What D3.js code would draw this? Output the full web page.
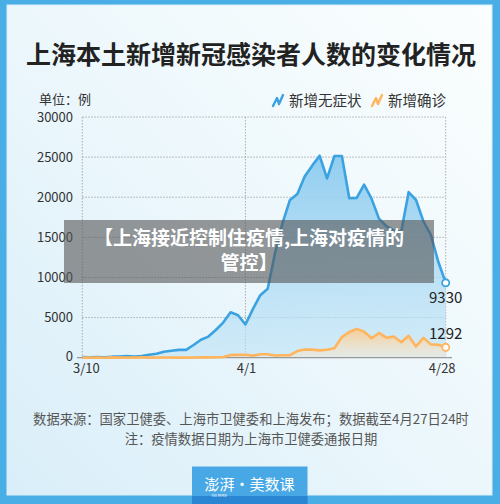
<!DOCTYPE html>
<html><head><meta charset="utf-8">
<script src="https://cdn.jsdelivr.net/npm/d3@7"></script>
<style>html,body{margin:0;padding:0;background:#4aaee6;}svg{display:block;}</style>
</head><body>
<script>
const dates = ["3/10","3/11","3/12","3/13","3/14","3/15","3/16","3/17","3/18","3/19","3/20","3/21","3/22","3/23","3/24","3/25","3/26","3/27","3/28","3/29","3/30","3/31","4/1","4/2","4/3","4/4","4/5","4/6","4/7","4/8","4/9","4/10","4/11","4/12","4/13","4/14","4/15","4/16","4/17","4/18","4/19","4/20","4/21","4/22","4/23","4/24","4/25","4/26","4/27","4/28"];
const asymptomatic = [76,64,78,64,128,130,197,150,203,366,492,734,865,977,979,1580,2231,2631,3450,4381,5656,5298,4144,6051,7788,8581,13086,16766,19660,20398,22609,23937,25173,22348,25141,25146,19872,19923,21582,19831,17332,16407,15861,15698,20634,19657,16983,15319,11956,9330];
const confirmed = [4,11,5,1,41,9,5,8,57,8,17,24,31,4,4,29,38,45,50,96,326,355,358,260,438,425,268,311,322,824,1015,1006,914,994,1189,2573,3200,3590,3238,2417,3084,2494,2634,1931,2736,1401,2472,1661,1606,1292];
const yTicks = [0,5000,10000,15000,20000,25000,30000];
const xTickLabels = ["3/10","4/1","4/28"];
const seriesNames = ["新增无症状","新增确诊"];

const W=500,H=504;
const FONT='"Noto Sans CJK SC","Noto Sans",sans-serif';
const svg=d3.select("body").append("svg").attr("width",W).attr("height",H);
const defs=svg.append("defs");
const pg=defs.append("linearGradient").attr("id","panel").attr("x1","0").attr("y1","1").attr("x2","1").attr("y2","0");
pg.append("stop").attr("offset","0").attr("stop-color","#d9eef9");
pg.append("stop").attr("offset","0.55").attr("stop-color","#eef8fc");
pg.append("stop").attr("offset","1").attr("stop-color","#fbfefe");
const bg=defs.append("linearGradient").attr("id","blueA").attr("x1","0").attr("y1","0").attr("x2","0").attr("y2","1");
bg.append("stop").attr("offset","0").attr("stop-color","#8ccbef").attr("stop-opacity",0.95);
bg.append("stop").attr("offset","1").attr("stop-color","#bfe3f6").attr("stop-opacity",0.6);
const og=defs.append("linearGradient").attr("id","orangeA").attr("x1","0").attr("y1","0").attr("x2","0").attr("y2","1");
og.append("stop").attr("offset","0").attr("stop-color","#fbc98a").attr("stop-opacity",0.9);
og.append("stop").attr("offset","1").attr("stop-color","#fde9cf").attr("stop-opacity",0.4);

// frame
svg.append("rect").attr("width",W).attr("height",H).attr("fill","#4aaee6");
svg.append("rect").attr("x",7).attr("y",5).attr("width",485).attr("height",490).attr("fill","url(#panel)").attr("stroke","#d8eef9").attr("stroke-width",1);

// title
svg.append("text").attr("x",251).attr("y",64).attr("text-anchor","middle").attr("font-family",FONT)
  .attr("font-size",25).attr("font-weight","bold").attr("fill","#222").text("上海本土新增新冠感染者人数的变化情况");

const x=d3.scalePoint().domain(dates).range([82.3,445.7]);
const y=d3.scaleLinear().domain([0,30000]).range([357.7,117]);

// grid
const g=svg.append("g");
g.selectAll(".hg").data(yTicks.filter(d=>d>0)).enter().append("line")
 .attr("x1",82.3).attr("x2",445.7).attr("y1",d=>y(d)).attr("y2",d=>y(d))
 .attr("stroke","#9a9a9a").attr("stroke-width",0.8).attr("stroke-dasharray","1.5,1.5");
g.selectAll(".vg").data(xTickLabels).enter().append("line")
 .attr("x1",d=>x(d)).attr("x2",d=>x(d)).attr("y1",y(30000)).attr("y2",y(0))
 .attr("stroke","#9a9a9a").attr("stroke-width",0.8).attr("stroke-dasharray","1.5,1.5");

// y axis labels
const yAxis=d3.axisLeft(y).tickValues(yTicks).tickFormat(d3.format("d")).tickSize(0).tickPadding(0);
const ya=svg.append("g").attr("transform","translate(73,0)").call(yAxis);
ya.select(".domain").remove();
ya.selectAll("text").attr("font-family",FONT).attr("font-size",13).attr("fill","#333");
ya.selectAll(".tick").filter(d=>d===0).select("text").attr("dy","0.25em");

// x axis labels
const xAxis=d3.axisBottom(x).tickValues(xTickLabels).tickSize(0).tickPadding(0);
const xa=svg.append("g").attr("transform","translate(0,364)").call(xAxis);
xa.select(".domain").remove();
const xShift={"3/10":3.5,"4/1":0.5,"4/28":-4};
xa.selectAll("text").attr("font-family",FONT).attr("font-size",13).attr("fill","#333").attr("dx",d=>xShift[d]);

svg.append("text").attr("x",39).attr("y",104).attr("font-family",FONT).attr("font-size",13).attr("fill","#333").text("单位：例");

// areas and lines
const area=vals=>d3.area().x((d,i)=>x(dates[i])).y0(y(0)).y1(d=>y(d))(vals);
const line=vals=>d3.line().x((d,i)=>x(dates[i])).y(d=>y(d))(vals);
svg.append("path").attr("d",area(asymptomatic)).attr("fill","url(#blueA)");
svg.append("path").attr("d",area(confirmed)).attr("fill","url(#orangeA)");
svg.append("line").attr("x1",77).attr("x2",452).attr("y1",y(0)).attr("y2",y(0)).attr("stroke","#999").attr("stroke-width",1.2);
svg.append("path").attr("d",line(asymptomatic)).attr("fill","none").attr("stroke","#3ba2e2").attr("stroke-width",2.6).attr("stroke-linejoin","round");
svg.append("path").attr("d",line(confirmed)).attr("fill","none").attr("stroke","#ffb55e").attr("stroke-width",2.6).attr("stroke-linejoin","round");

const last=dates.length-1;
[[asymptomatic,"#3ba2e2",298],[confirmed,"#ffb55e",334]].forEach(([v,c,ly])=>{
  svg.append("circle").attr("cx",x(dates[last])).attr("cy",y(v[last])).attr("r",3.6).attr("fill","#fff").attr("stroke",c).attr("stroke-width",1.8);
  svg.append("text").attr("x",x(dates[last])).attr("y",ly).attr("dy","0.36em").attr("text-anchor","middle")
    .attr("font-family",FONT).attr("font-size",15).attr("fill","#222").text(v[last]);
});

// legend
const legend=[[seriesNames[0],"#3ba2e2",273],[seriesNames[1],"#ffb55e",372]];
legend.forEach(([t,c,lx])=>{
  svg.append("path").attr("d",`M${lx},${106}L${lx+4},${98}L${lx+6},${104}L${lx+10},${95}`).attr("fill","none").attr("stroke",c).attr("stroke-width",2.4).attr("stroke-linecap","round").attr("stroke-linejoin","round");
  svg.append("text").attr("x",lx+16).attr("y",105.5).attr("font-family",FONT).attr("font-size",14.5).attr("fill","#333").text(t);
});

// banner overlay
svg.append("rect").attr("x",64).attr("y",220).attr("width",370).attr("height",63).attr("fill","#555").attr("fill-opacity",0.6);
svg.append("text").attr("x",249).attr("y",244.5).attr("text-anchor","middle").attr("font-family",FONT).attr("font-weight","bold").attr("font-size",19).attr("fill","#fff").text("【上海接近控制住疫情,上海对疫情的");
svg.append("text").attr("x",249).attr("y",270).attr("text-anchor","middle").attr("font-family",FONT).attr("font-weight","bold").attr("font-size",19).attr("fill","#fff").text("管控】");

// footer
svg.append("text").attr("x",251).attr("y",424).attr("text-anchor","middle").attr("font-family",FONT).attr("font-size",13.3).attr("fill","#555").text("数据来源：国家卫健委、上海市卫健委和上海发布；数据截至4月27日24时");
svg.append("text").attr("x",251).attr("y",444).attr("text-anchor","middle").attr("font-family",FONT).attr("font-size",13.3).attr("fill","#555").text("注：疫情数据日期为上海市卫健委通报日期");

// logo
svg.append("rect").attr("x",192).attr("y",466.5).attr("width",115.5).attr("height",38).attr("fill","#48a8e6");
svg.append("rect").attr("x",192).attr("y",496).attr("width",115.5).attr("height",8).attr("fill","#2a86d2");
svg.append("text").attr("x",249.5).attr("y",490).attr("text-anchor","middle").attr("font-family",FONT).attr("font-size",15).attr("fill","#fff").text("澎湃·美数课");
svg.append("text").attr("x",219).attr("y",497).attr("text-anchor","middle").attr("font-family",FONT).attr("font-size",3).attr("fill","#fff").text("THE PAPER");
</script>
</body></html>
